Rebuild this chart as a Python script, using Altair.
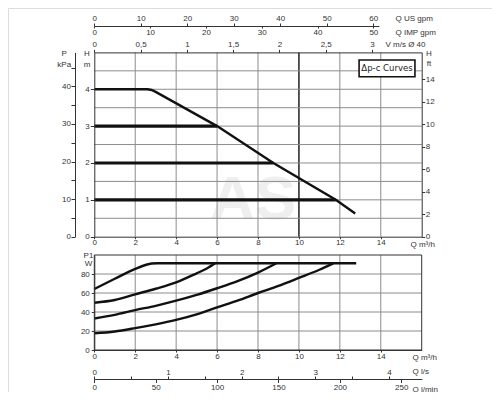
import math
import altair as alt
import pandas as pd

# ---------------- data ----------------
# Top panel (Δp-c curves): head H [m] versus flow Q [m³/h]
curve4_q = [0.0, 2.6, 2.8, 3.0, 6.0, 8.75, 11.8, 12.75]
curve4_h = [4.0, 4.0, 3.98, 3.93, 3.0, 2.0, 1.0, 0.63]
flat_h = [3.0, 2.0, 1.0]
flat_q_end = [6.0, 8.75, 11.8]

# Bottom panel: power input P1 [W] versus Q [m³/h]
p1_4m_q = [0, 1, 2, 2.5, 2.8, 3.1, 12.8]
p1_4m_w = [64.2, 75, 85.4, 89.5, 91, 91.3, 91.3]
p1_3m_q = [0, 1, 2, 3, 4, 5, 5.5, 5.9]
p1_3m_w = [49.8, 52.6, 58.6, 64.5, 71.2, 80.7, 85.8, 91.3]
p1_2m_q = [0, 1, 2, 3, 4, 5, 6, 7, 8, 8.9]
p1_2m_w = [33.2, 37, 42, 46.5, 51.9, 58, 65, 72.5, 81.5, 91.3]
p1_1m_q = [0, 1, 2, 3, 4, 5, 6, 7, 8, 9, 10, 11, 11.68]
p1_1m_w = [17.6, 19.5, 23, 27, 31.7, 37.5, 44.8, 52, 60, 67.5, 75.9, 84.5, 91.3]

# grid and tick values
q_ticks = [0, 2, 4, 6, 8, 10, 12, 14]
q_grid_light = [2, 4, 6, 8, 12, 14]
q_grid_dark = [10]
q_grid_bottom = [2, 4, 6, 8, 10, 12, 14]
h_grid = [0.5, 1, 1.5, 2, 2.5, 3, 3.5, 4, 4.5]
p1_grid = [20, 40, 60, 80]
h_m_ticks = [0, 1, 2, 3, 4]
h_ft_ticks = [0, 2, 4, 6, 8, 10, 12, 14]
kpa_ticks = [0, 5, 10, 15, 20, 25, 30, 35, 40, 45]
v_ticks = [0, 0.5, 1, 1.5, 2, 2.5, 3]
us_gpm_ticks = [0, 10, 20, 30, 40, 50, 60]
imp_gpm_ticks = [0, 10, 20, 30, 40, 50]
p1_ticks = [0, 20, 40, 60, 80]
ls_ticks = [0, 0.5, 1, 1.5, 2, 2.5, 3, 3.5, 4]
lmin_ticks = [0, 50, 100, 150, 200, 250]

legend_label = "Δp-c Curves"
watermark = "AS"

# ---------------- unit conversions ----------------
QMAX = 16.0
HMAX = 5.0
PMAX = 100.0
KPA_PER_M = 9.81
FT_PER_M = 1 / 0.3048
V_PER_Q = 1 / (3600 * math.pi * 0.02 ** 2)
US_PER_Q = 4.40287
IMP_PER_Q = 3.66615
LS_PER_Q = 1 / 3.6
LMIN_PER_Q = 1000 / 60
GPM_SPAN_Q = 13.9

# ---------------- layout / style ----------------
FONT = "Liberation Sans"
TXT = "#333333"
DARK = "#333333"
GRID = "#8c8c8c"
INK = "#111111"

W, H = 484, 384
X0, X1 = 86.3, 413.7
QPX = (X1 - X0) / QMAX
YT0, YT1 = 228.7, 44.4
YB0, YB1 = 342.0, 247.0


def lin(d1, r0, r1):
    return alt.Scale(domain=[0, d1], range=[r0, r1], nice=False, zero=False)


def QX():
    return lin(QMAX, X0, X1)


def HY():
    return lin(HMAX, YT0, YT1)


def PY():
    return lin(PMAX, YB0, YB1)


AX = dict(labelFont=FONT, labelFontSize=8, labelColor=TXT, titleFont=FONT,
          titleFontSize=8, titleColor=TXT, titleFontWeight="normal", titleAngle=0,
          grid=False, domainColor=DARK, tickColor=DARK, labelFlush=False,
          labelOverlap=False, zindex=1)


def xaxis(dmax, qspan, orient, y_page, values, title, tpx, tpy, tick=3, pad=0.5,
          fmt=None, lexpr=None):
    off = -(y_page - 8) if orient == "top" else (y_page - 8) - H
    extra = {}
    if fmt:
        extra["format"] = fmt
    if lexpr:
        extra["labelExpr"] = lexpr
    ax = alt.Axis(orient=orient, offset=off, values=values, title=title,
                  titleX=tpx - 8, titleY=tpy - y_page, titleAlign="left",
                  titleBaseline="middle", tickSize=tick, labelPadding=pad, **AX, **extra)
    return alt.Chart(pd.DataFrame({"v": [0, dmax]})).mark_point(opacity=0).encode(
        x=alt.X("v:Q", scale=lin(dmax, X0, X0 + qspan * QPX), axis=ax))


def yaxis(dmax, r0, r1, orient, x_page, values, title, tpx, tpy, lh, tick=3, pad=1,
          lexpr=None):
    off = -(x_page - 8) if orient == "left" else (x_page - 8) - W
    extra = {}
    if lexpr:
        extra["labelExpr"] = lexpr
    ax = alt.Axis(orient=orient, offset=off, values=values, title=title,
                  titleX=tpx - x_page, titleY=tpy - 8, titleAlign="center",
                  titleBaseline="top", titleLineHeight=lh, tickSize=tick,
                  labelPadding=pad, **AX, **extra)
    return alt.Chart(pd.DataFrame({"v": [0, dmax]})).mark_point(opacity=0).encode(
        y=alt.Y("v:Q", scale=lin(dmax, r0, r1), axis=ax))


layers = []

# watermark
layers.append(
    alt.Chart(pd.DataFrame({"q": [7.76], "h": [1.0], "t": [watermark]}))
    .mark_text(font=FONT, fontSize=62, fontWeight="bold", color="#efefef",
               align="center", baseline="middle")
    .encode(x=alt.X("q:Q", scale=QX(), axis=None), y=alt.Y("h:Q", scale=HY(), axis=None),
            text="t:N"))

# top grid
layers.append(
    alt.Chart(pd.DataFrame({"q": q_grid_light, "lo": 0.0, "hi": HMAX}))
    .mark_rule(color=GRID, strokeWidth=1)
    .encode(x=alt.X("q:Q", scale=QX(), axis=None), y=alt.Y("lo:Q", scale=HY(), axis=None), y2="hi:Q"))
layers.append(
    alt.Chart(pd.DataFrame({"q": q_grid_dark, "lo": 0.0, "hi": HMAX}))
    .mark_rule(color=INK, strokeWidth=1.4)
    .encode(x=alt.X("q:Q", scale=QX(), axis=None), y=alt.Y("lo:Q", scale=HY(), axis=None), y2="hi:Q"))
layers.append(
    alt.Chart(pd.DataFrame({"h": h_grid, "lo": 0.0, "hi": QMAX}))
    .mark_rule(color=GRID, strokeWidth=1)
    .encode(y=alt.Y("h:Q", scale=HY(), axis=None), x=alt.X("lo:Q", scale=QX(), axis=None), x2="hi:Q"))

# bottom grid and frame
layers.append(
    alt.Chart(pd.DataFrame({"q": q_grid_bottom, "lo": 0.0, "hi": PMAX}))
    .mark_rule(color=GRID, strokeWidth=1)
    .encode(x=alt.X("q:Q", scale=QX(), axis=None), y=alt.Y("lo:Q", scale=PY(), axis=None), y2="hi:Q"))
layers.append(
    alt.Chart(pd.DataFrame({"w": p1_grid, "lo": 0.0, "hi": QMAX}))
    .mark_rule(color=GRID, strokeWidth=1)
    .encode(y=alt.Y("w:Q", scale=PY(), axis=None), x=alt.X("lo:Q", scale=QX(), axis=None), x2="hi:Q"))
layers.append(
    alt.Chart(pd.DataFrame({"q0": [0.0], "q1": [QMAX], "w0": [0.0], "w1": [PMAX]}))
    .mark_rect(fillOpacity=0, stroke=DARK, strokeWidth=1)
    .encode(x=alt.X("q0:Q", scale=QX(), axis=None), x2="q1:Q",
            y=alt.Y("w0:Q", scale=PY(), axis=None), y2="w1:Q"))

# top curves
flat_rows = []
for lev, qe in zip(flat_h, flat_q_end):
    flat_rows += [{"q": 0.0, "h": lev, "g": str(lev)}, {"q": qe, "h": lev, "g": str(lev)}]
layers.append(
    alt.Chart(pd.DataFrame(flat_rows)).mark_line(color=INK, strokeWidth=3.2)
    .encode(x=alt.X("q:Q", scale=QX(), axis=None), y=alt.Y("h:Q", scale=HY(), axis=None),
            detail="g:N"))
layers.append(
    alt.Chart(pd.DataFrame({"q": curve4_q, "h": curve4_h})).mark_line(color=INK, strokeWidth=2.4)
    .encode(x=alt.X("q:Q", scale=QX(), axis=None), y=alt.Y("h:Q", scale=HY(), axis=None)))

# bottom curves
p_rows = []
for name, qs, ws in [("4", p1_4m_q, p1_4m_w), ("3", p1_3m_q, p1_3m_w),
                     ("2", p1_2m_q, p1_2m_w), ("1", p1_1m_q, p1_1m_w)]:
    p_rows += [{"q": a, "w": b, "c": name} for a, b in zip(qs, ws)]
layers.append(
    alt.Chart(pd.DataFrame(p_rows)).mark_line(color=INK, strokeWidth=2.4, interpolate="monotone")
    .encode(x=alt.X("q:Q", scale=QX(), axis=None), y=alt.Y("w:Q", scale=PY(), axis=None),
            detail="c:N"))

# legend box
layers.append(
    alt.Chart(pd.DataFrame({"q0": [12.94], "q1": [15.67], "h0": [4.34], "h1": [4.795]}))
    .mark_rect(fill="white", stroke=INK, strokeWidth=1.6)
    .encode(x=alt.X("q0:Q", scale=QX(), axis=None), x2="q1:Q",
            y=alt.Y("h0:Q", scale=HY(), axis=None), y2="h1:Q"))
layers.append(
    alt.Chart(pd.DataFrame({"q": [14.305], "h": [4.567], "t": [legend_label]}))
    .mark_text(font="DejaVu Sans Condensed, Liberation Sans", fontSize=9.5, color="#222222",
               align="center", baseline="middle")
    .encode(x=alt.X("q:Q", scale=QX(), axis=None), y=alt.Y("h:Q", scale=HY(), axis=None),
            text="t:N"))

# axes
layers += [
    yaxis(HMAX * KPA_PER_M, YT0, YT1, "left", 75, kpa_ticks, ["P", "kPa"], 63.7, 49.6, 10.5,
          tick=4, pad=0.5, lexpr="datum.value % 10 === 0 ? datum.label : ''"),
    yaxis(HMAX, YT0, YT1, "left", 94.3, h_m_ticks, ["H", "m"], 86.5, 49.6, 10.5, tick=4, pad=1),
    yaxis(HMAX * FT_PER_M, YT0, YT1, "right", 421.7, h_ft_ticks, ["H", "ft"], 428.5, 49.6, 9.5,
          tick=3, pad=0.5),
    yaxis(PMAX, YB0, YB1, "left", 94.3, p1_ticks, ["P1", "W"], 88, 251, 8.5, tick=3, pad=2),
    xaxis(GPM_SPAN_Q * US_PER_Q, GPM_SPAN_Q, "top", 26, us_gpm_ticks, "Q US gpm", 395, 18.3,
          tick=3, pad=0.5),
    xaxis(GPM_SPAN_Q * IMP_PER_Q, GPM_SPAN_Q, "bottom", 26, imp_gpm_ticks, "Q IMP gpm", 395, 32.7,
          tick=2, pad=0.5),
    xaxis(QMAX * V_PER_Q, QMAX, "top", 52.4, v_ticks, "V m/s Ø 40", 385, 44.3, tick=3, pad=0.5,
          fmt="~g", lexpr="replace(datum.label, '.', ',')"),
    xaxis(QMAX, QMAX, "bottom", 236.7, q_ticks, "Q m³/h", 410, 244.8, tick=2, pad=0),
    xaxis(QMAX, QMAX, "bottom", 350, q_ticks, "Q m³/h", 412, 357.5, tick=2, pad=0),
    xaxis(QMAX * LS_PER_Q, QMAX, "top", 379, ls_ticks, "Q l/s", 412, 371.7, tick=3, pad=0,
          fmt="~g", lexpr="datum.value % 1 === 0 ? datum.label : ''"),
    xaxis(QMAX * LMIN_PER_Q, QMAX, "bottom", 379, lmin_ticks, "Q l/min", 412, 389, tick=3.5, pad=0.5),
]

chart = (
    alt.layer(*layers)
    .resolve_scale(x="independent", y="independent")
    .properties(width=W, height=H, autosize=alt.AutoSizeParams(type="none"), padding=0)
    .configure_view(stroke=None)
    .configure(background="white")
)

chart.save("out.html", embed_options={"renderer": "svg", "actions": False})
